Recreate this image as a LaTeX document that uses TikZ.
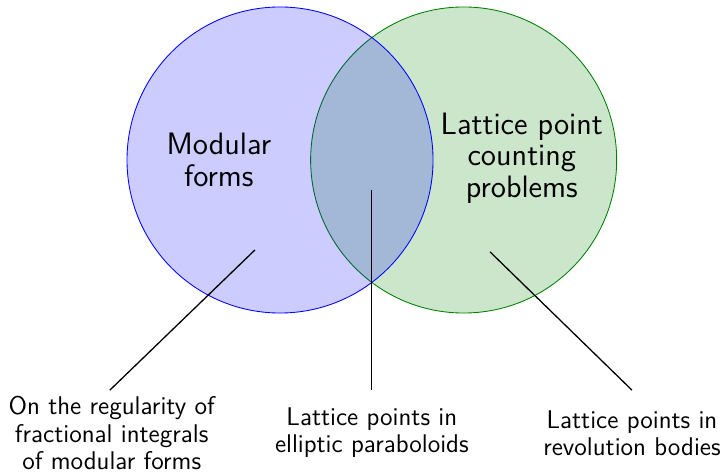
\documentclass[tikz,border=0pt]{standalone}
\usepackage{xcolor}
\usepackage{tikz}
\usetikzlibrary{positioning}

\begin{document}
\begin{tikzpicture}[font=\sffamily,
  conjunto/.style={fill opacity=0.2, text opacity=1},
  titulo/.style={align=center, font=\sffamily\fontsize{14.4}{14.6}\selectfont},
  etiqueta/.style={align=center, font=\sffamily\fontsize{11.9}{12.6}\selectfont},
  linea/.style={black, line width=0.6pt}]
\useasboundingbox (-4.575,2.614) rectangle (7.27,-5.114);
% circulos
\draw[conjunto, draw=green!50!black, fill=green!50!black] (3,0) circle (2.5cm);
\draw[conjunto, draw=blue, fill=blue] (0,0) circle (2.5cm);
\node[titulo] (mod) at (-1.0,0.0) {Modular\\forms};
\node[titulo] (lat) at (3.95,0.03) {Lattice point\\counting\\problems};
% puntos de las lineas
\coordinate (pa) at (-0.41,-1.47);
\coordinate (pb) at (1.5,-0.49);
\coordinate (pc) at (3.43,-1.5);
\coordinate (qa) at (-2.78,-3.76);
\coordinate (qb) at (1.5,-3.76);
\coordinate (qc) at (5.75,-3.76);
\draw[linea] (pa)--(qa); \draw[linea] (pb)--(qb); \draw[linea] (pc)--(qc);
% etiquetas
\node[etiqueta] (ea) at (-2.75,-4.46) {On the regularity of\\fractional integrals\\of modular forms};
\node[etiqueta] (eb) at (1.5,-4.46) {Lattice points in\\elliptic paraboloids};
\node[etiqueta] (ec) at (5.75,-4.46) {Lattice points in\\revolution bodies};
\end{tikzpicture}
\end{document}
